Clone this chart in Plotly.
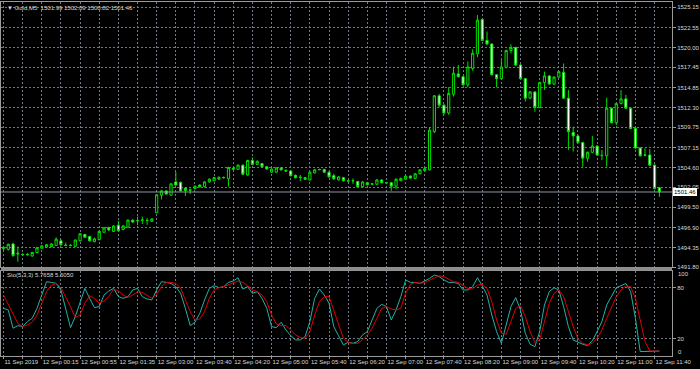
import plotly.graph_objects as go

# ---------------- data ----------------
BAR = list(range(138))  # M5 bar index, 11 Sep 23:35 ... 12 Sep 11:45

OPEN = [1494.20,1494.10,1494.80,1493.50,1493.40,1493.40,1493.25,1493.70,1494.25,1494.40,
        1494.45,1494.60,1495.20,1494.65,1494.60,1494.50,1495.20,1496.00,1495.75,1495.10,
        1495.35,1496.30,1496.90,1496.40,1497.20,1496.65,1496.95,1497.85,1497.78,1497.85,
        1497.80,1497.70,1498.80,1501.05,1501.60,1501.05,1502.75,1502.70,1501.95,1501.70,
        1501.90,1502.35,1502.15,1502.75,1502.90,1503.10,1503.30,1503.15,1504.50,1504.35,
        1504.90,1503.65,1505.50,1505.00,1505.10,1504.70,1504.00,1504.00,1504.55,1504.25,
        1504.15,1503.60,1503.35,1503.30,1503.00,1503.90,1504.35,1504.35,1504.00,1503.55,
        1503.00,1503.30,1502.90,1502.90,1502.80,1502.15,1502.65,1502.50,1502.45,1503.00,
        1502.65,1502.65,1502.20,1502.90,1503.10,1503.50,1503.20,1503.80,1504.20,1504.30,
        1509.20,1513.80,1512.60,1511.60,1514.00,1516.60,1516.25,1515.20,1517.30,1519.20,
        1523.60,1520.90,1520.45,1516.50,1516.00,1517.45,1519.60,1520.00,1517.75,1516.00,
        1513.50,1514.30,1512.30,1515.50,1516.35,1515.30,1516.20,1516.80,1513.50,1509.10,
        1508.65,1507.80,1505.80,1506.55,1507.35,1506.15,1506.10,1512.20,1510.35,1512.80,
        1513.40,1512.20,1509.60,1507.10,1506.20,1506.20,1504.90,1501.99]
HIGH = [1494.55,1494.85,1494.95,1494.45,1493.60,1493.65,1493.80,1494.40,1494.65,1494.80,
        1494.90,1495.65,1495.40,1494.95,1494.75,1495.35,1496.20,1496.10,1495.85,1495.60,
        1496.50,1496.95,1497.00,1497.20,1497.75,1497.25,1497.95,1497.95,1498.30,1498.30,
        1498.10,1498.10,1501.20,1501.75,1501.70,1502.60,1504.05,1502.80,1502.05,1501.90,
        1502.30,1502.45,1502.85,1503.20,1503.40,1503.45,1503.45,1504.70,1504.60,1505.00,
        1505.00,1505.60,1505.90,1505.50,1505.20,1504.80,1504.50,1504.65,1504.65,1504.30,
        1504.25,1503.70,1503.65,1503.40,1504.10,1504.40,1504.45,1504.45,1504.10,1503.80,
        1503.50,1503.40,1503.00,1503.20,1502.90,1502.85,1502.75,1502.60,1503.10,1503.10,
        1502.75,1502.75,1503.20,1503.30,1503.60,1503.60,1503.90,1504.40,1504.55,1509.80,
        1513.90,1514.05,1512.70,1514.90,1517.55,1517.75,1516.35,1518.20,1519.75,1524.15,
        1523.70,1522.05,1520.55,1516.60,1518.40,1519.70,1520.40,1520.10,1517.85,1516.10,
        1514.40,1514.40,1515.60,1516.90,1516.45,1516.30,1517.00,1517.95,1514.55,1509.85,
        1508.75,1507.90,1506.65,1508.65,1507.45,1506.85,1513.55,1512.30,1512.90,1514.55,
        1513.90,1512.30,1509.70,1507.20,1507.05,1506.95,1505.00,1502.09]
LOW = [1493.95,1493.95,1493.15,1492.50,1493.25,1493.30,1493.15,1493.60,1494.15,1494.30,
       1494.40,1494.55,1494.55,1494.55,1494.50,1494.40,1495.10,1495.55,1495.10,1495.00,
       1495.25,1496.20,1496.45,1496.35,1496.40,1496.55,1496.90,1497.50,1497.20,1497.35,
       1497.25,1497.65,1498.75,1500.50,1501.10,1500.95,1502.25,1501.50,1500.95,1501.20,
       1501.80,1502.05,1502.05,1502.65,1502.85,1503.00,1503.15,1502.15,1504.30,1504.30,
       1503.65,1503.55,1504.90,1504.90,1504.60,1504.30,1503.90,1503.95,1504.20,1504.05,
       1503.45,1503.20,1502.85,1503.00,1502.95,1503.85,1504.25,1503.90,1503.30,1503.00,
       1502.95,1502.80,1502.80,1502.50,1502.05,1502.05,1502.30,1502.40,1502.40,1502.55,
       1502.55,1501.60,1501.80,1502.85,1503.00,1503.15,1503.10,1503.70,1504.10,1504.20,
       1509.00,1512.30,1511.40,1511.35,1513.70,1516.15,1515.10,1514.90,1517.00,1518.75,
       1520.80,1520.30,1516.40,1514.90,1515.90,1517.30,1519.25,1517.60,1515.90,1513.05,
       1513.40,1511.75,1512.20,1514.55,1515.20,1515.20,1516.10,1513.40,1506.85,1506.65,
       1507.70,1504.70,1505.35,1506.45,1506.10,1505.55,1504.70,1510.25,1510.05,1512.70,
       1512.10,1509.50,1507.00,1506.00,1506.05,1504.80,1501.80,1500.82]
CLOSE = [1494.35,1494.75,1493.30,1493.60,1493.45,1493.45,1493.70,1494.30,1494.55,1494.70,
         1494.80,1495.40,1494.70,1494.60,1494.62,1495.30,1496.10,1495.65,1495.20,1495.45,
         1496.40,1496.85,1496.60,1497.10,1496.50,1497.10,1497.85,1497.60,1497.80,1497.85,
         1497.82,1498.00,1501.10,1501.60,1501.20,1502.50,1502.35,1501.60,1501.65,1501.72,
         1502.20,1502.15,1502.75,1503.10,1503.30,1503.35,1503.32,1504.60,1504.40,1504.90,
         1503.75,1505.50,1505.00,1505.40,1504.70,1504.40,1504.40,1504.55,1504.30,1504.15,
         1503.55,1503.30,1503.33,1503.10,1504.00,1504.30,1504.33,1504.00,1503.40,1503.15,
         1503.40,1502.90,1502.88,1502.90,1502.15,1502.75,1502.40,1502.48,1503.00,1502.65,
         1502.63,1502.20,1503.10,1503.20,1503.50,1503.25,1503.80,1504.30,1504.45,1509.40,
         1513.80,1512.60,1511.60,1514.10,1516.70,1516.25,1515.20,1517.50,1519.25,1523.50,
         1520.90,1520.45,1516.50,1516.00,1517.50,1519.60,1520.00,1517.75,1516.00,1513.50,
         1514.30,1512.30,1515.50,1516.35,1515.30,1516.20,1516.90,1513.50,1509.20,1508.65,
         1507.80,1505.80,1506.55,1507.35,1506.20,1506.13,1512.20,1510.35,1512.80,1513.40,
         1512.20,1509.60,1507.10,1506.10,1506.18,1504.90,1501.90,1501.46]

STO_MAIN = [55.8,53.9,32.5,35.6,34.4,40.3,44.2,55.8,71.4,87.0,86.2,85.0,77.3,55.8,33.2,46.1,
            63.6,79.2,67.5,56.6,57.8,71.4,76.1,79.2,69.5,67.5,69.5,77.3,79.2,69.5,66.8,65.6,
            77.3,87.0,86.2,85.0,81.2,73.4,55.8,35.6,39.5,50.0,65.6,79.2,82.3,80.0,81.2,86.2,
            87.8,91.7,78.4,81.2,73.4,75.3,67.5,55.8,34.4,33.2,39.5,30.5,23.9,18.8,18.8,22.7,
            40.3,67.5,78.4,71.4,62.0,34.4,23.5,13.0,16.1,14.9,16.9,24.7,28.6,42.2,55.8,60.5,
            57.8,42.2,53.9,69.5,89.0,86.2,86.2,85.0,87.8,90.9,94.8,92.9,89.0,86.2,86.2,85.0,
            77.3,77.3,81.2,91.7,82.3,71.4,48.0,28.6,14.9,36.4,57.8,68.3,53.9,26.6,13.8,11.0,
            28.6,59.7,75.3,80.0,77.3,57.8,34.4,18.8,16.1,13.8,12.2,17.7,28.6,40.3,59.7,69.5,
            80.0,82.3,85.0,75.3,44.2,5.2,5.2,5.2,5.5,5.7658]
STO_SIGNAL = [71.4,59.7,48.0,38.3,34.4,36.4,39.5,48.0,61.7,75.3,83.1,85.0,80.0,69.5,57.8,44.9,
              48.0,61.7,70.6,67.5,61.7,64.4,69.5,78.4,76.1,71.4,68.3,71.4,75.3,74.5,70.6,67.5,
              72.2,81.2,86.2,86.2,85.0,79.2,65.6,52.0,42.2,43.4,52.0,67.5,77.3,80.0,81.2,83.1,
              85.0,87.8,86.2,82.3,77.3,75.3,71.4,63.6,48.0,37.5,35.6,35.6,30.5,24.7,21.6,20.8,
              28.6,48.0,63.6,69.5,69.5,54.0,37.0,20.8,16.1,14.5,14.9,18.8,24.7,32.5,44.2,55.8,
              57.8,55.0,53.9,55.8,73.4,83.9,86.2,85.0,86.2,89.0,91.7,94.0,92.9,90.1,87.0,86.2,
              82.3,79.2,78.4,83.1,83.9,79.2,63.6,42.2,26.6,25.4,40.3,55.8,59.0,46.1,28.6,16.1,
              18.8,40.3,61.7,73.4,77.3,69.5,52.0,34.4,20.0,14.9,13.0,14.9,20.8,30.5,44.2,57.8,
              69.5,77.3,82.3,81.2,67.5,42.2,16.9,6.0,5.4,5.6050]

TIME_LABELS = ["11 Sep 2019", "12 Sep 00:15", "12 Sep 00:55", "12 Sep 01:35", "12 Sep 03:00",
               "12 Sep 03:40", "12 Sep 04:20", "12 Sep 05:00", "12 Sep 05:40", "12 Sep 06:20",
               "12 Sep 07:00", "12 Sep 07:40", "12 Sep 08:20", "12 Sep 09:00", "12 Sep 09:40",
               "12 Sep 10:20", "12 Sep 11:00", "12 Sep 11:40"]
PRICE_LABELS = ["1491.80", "1494.35", "1496.90", "1499.50", "1502.05", "1504.60", "1507.15",
                "1509.75", "1512.30", "1514.85", "1517.45", "1520.00", "1522.55", "1525.15"]
STO_LABELS = ["20", "80"]
SYMBOL = "Gold,M5"
STO_NAME = "Sto(5,3,3)"

# ---------------- layout helpers ----------------
W, H = 700, 369
ML, MR, MT, MB = 0, 24, 0, 13
PW, PH = W - ML - MR, H - MT - MB     # plot area 676 x 356
def py(p):  # pixel row -> paper y
    return (PH - p) / PH
def px(p):
    return p / PW

X_RANGE = [-0.518, 139.64]
GRID = "#6f7a86"
AXC = "#9a9a9a"
TXT = "#d8d8d8"
FONT = "Liberation Sans"
FS = 6
GREEN = "#00e000"

grid_ticks = BAR[::4]
bottom_text = [TIME_LABELS[k // 2] if k % 2 == 0 else "" for k in range(len(grid_ticks))]

fig = go.Figure()
fig.add_trace(go.Candlestick(
    x=BAR, open=OPEN, high=HIGH, low=LOW, close=CLOSE,
    increasing=dict(line=dict(color=GREEN, width=1), fillcolor="#000000"),
    decreasing=dict(line=dict(color=GREEN, width=1), fillcolor="#ffffff"),
    whiskerwidth=0, xaxis="x", yaxis="y", hoverinfo="skip"))
fig.add_trace(go.Scatter(x=BAR, y=STO_MAIN, mode="lines",
                         line=dict(color="#20b2aa", width=1), xaxis="x2", yaxis="y2",
                         hoverinfo="skip"))
fig.add_trace(go.Scatter(x=BAR, y=STO_SIGNAL, mode="lines",
                         line=dict(color="#e00000", width=1), xaxis="x2", yaxis="y2",
                         hoverinfo="skip"))

main_top, main_bot = 2.0, 267.3
sto_top, sto_bot = 270.6, 356.0
common_x = dict(range=X_RANGE, tickmode="array", tickvals=grid_ticks, showgrid=True,
                gridcolor=GRID, griddash="2px,2px", gridwidth=1, zeroline=False,
                showline=True, mirror=True, linecolor=AXC, linewidth=1, fixedrange=True)
common_y = dict(side="right", showgrid=True, gridcolor=GRID, griddash="2px,2px",
                zeroline=False, showline=True, mirror=True, linecolor=AXC, linewidth=1,
                ticks="outside", ticklen=3, tickcolor=AXC,
                tickfont=dict(family=FONT, size=FS, color=TXT), fixedrange=True)

fig.update_layout(
    width=W, height=H, margin=dict(l=ML, r=MR, t=MT, b=MB, pad=0),
    paper_bgcolor="#000000", plot_bgcolor="#000000", showlegend=False,
    boxgap=0.35,
    xaxis=dict(common_x, domain=[0, 1], anchor="y", showticklabels=False, ticks="",
               rangeslider=dict(visible=False)),
    yaxis=dict(common_y, domain=[py(main_bot), py(main_top)], anchor="x",
               range=[float(PRICE_LABELS[0]), 1525.83], tickmode="array",
               tickvals=[float(t) for t in PRICE_LABELS], ticktext=PRICE_LABELS),
    xaxis2=dict(common_x, domain=[0, 1], anchor="y2", ticktext=bottom_text,
                ticks="outside", ticklen=2, tickcolor=AXC, tickangle=0,
                ticklabelposition="outside right",
                tickfont=dict(family=FONT, size=FS, color=TXT)),
    yaxis2=dict(common_y, domain=[0, py(sto_top)], anchor="x2", range=[0, 100],
                tickmode="array", tickvals=[float(t) for t in STO_LABELS],
                ticktext=STO_LABELS),
)

shapes = [
    # separator between panels
    dict(type="rect", xref="paper", yref="paper", x0=0, x1=1, y0=py(sto_top), y1=py(main_bot),
         fillcolor="#8c8c8c", line=dict(width=0), layer="above"),
    # bid line
    dict(type="line", xref="paper", yref="y", x0=0, x1=1, y0=CLOSE[-1], y1=CLOSE[-1],
         line=dict(color="#8a96a3", width=1)),
]
fig.update_layout(shapes=shapes)

annotations = [
    dict(xref="paper", yref="paper", x=px(4), y=py(7.5), xanchor="left", yanchor="middle",
         showarrow=False, align="left",
         text=f"▼ {SYMBOL}  {OPEN[-1]:.2f} {HIGH[-1]:.2f} {LOW[-1]:.2f} {CLOSE[-1]:.2f}",
         font=dict(family=FONT, size=FS, color=TXT)),
    dict(xref="paper", yref="paper", x=px(4), y=py(275), xanchor="left", yanchor="middle",
         showarrow=False, align="left",
         text=f"{STO_NAME} {STO_MAIN[-1]:.4f} {STO_SIGNAL[-1]:.4f}",
         font=dict(family=FONT, size=FS, color=TXT)),
    dict(xref="paper", yref="y", x=1, y=CLOSE[-1], xanchor="left", yanchor="middle",
         xshift=1, showarrow=False, text=f"{CLOSE[-1]:.2f}", bgcolor="#ffffff",
         bordercolor="#ffffff", borderpad=0, font=dict(family=FONT, size=FS, color="#000000")),
    dict(xref="paper", yref="paper", x=1, y=py(274), xanchor="left", yanchor="middle",
         xshift=4, showarrow=False, text="100", font=dict(family=FONT, size=FS, color=TXT)),
    dict(xref="paper", yref="paper", x=1, y=py(351.7), xanchor="left", yanchor="middle",
         xshift=4, showarrow=False, text="0", font=dict(family=FONT, size=FS, color=TXT)),
]
fig.update_layout(annotations=annotations)

fig.write_html("out.html")
